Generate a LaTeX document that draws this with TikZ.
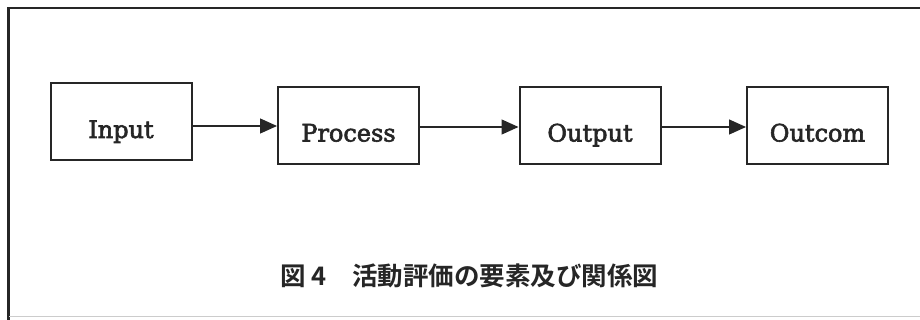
\documentclass[tikz,border=0pt]{standalone}
\usepackage{fontspec}
\setmainfont{DejaVu Serif}
\newfontfamily\boxfont{DejaVu Serif}[FakeBold=2.5]
\newfontfamily\cjk{Noto Sans CJK JP}[BoldFont={Noto Sans CJK JP Bold}]
\usetikzlibrary{arrows.meta}
\begin{document}
\begin{tikzpicture}[x=1pt,y=-1pt,
  box/.style={draw=black!85,line width=2pt,minimum width=141pt,minimum height=77pt,inner sep=0pt,text height=32pt,text depth=0pt,font=\boxfont\fontsize{24}{26}\selectfont,text=black!85},
  conn/.style={draw=black!85,line width=1.3pt,-{Triangle[length=17pt,width=15pt]}}]
\useasboundingbox (0,0) rectangle (920,320);
\fill[white] (0,0) rectangle (920,320);
\draw[black!85,line width=2.2pt] (8.5,320) -- (8.5,8) -- (920,8);
\draw[black!20,line width=1pt] (9,316) -- (920,316);
\node[box] (in) at (121,122) {Input};
\node[box] (pr) at (348.5,125.5) {Process};
\node[box] (ou) at (590,125.5) {Output};
\node[box] (oc) at (817.5,125.5) {Outcom};
\draw[conn] (in.east |- 0,126) -- (pr.west |- 0,126);
\draw[conn] (pr.east |- 0,127) -- (ou.west |- 0,127);
\draw[conn] (ou.east |- 0,127) -- (oc.west |- 0,127);
\node[font=\cjk\bfseries\fontsize{25.5}{28}\selectfont,text=black!85,inner sep=0pt] (cap) at (469.5,276) {図 4　活動評価の要素及び関係図};
\end{tikzpicture}
\end{document}
